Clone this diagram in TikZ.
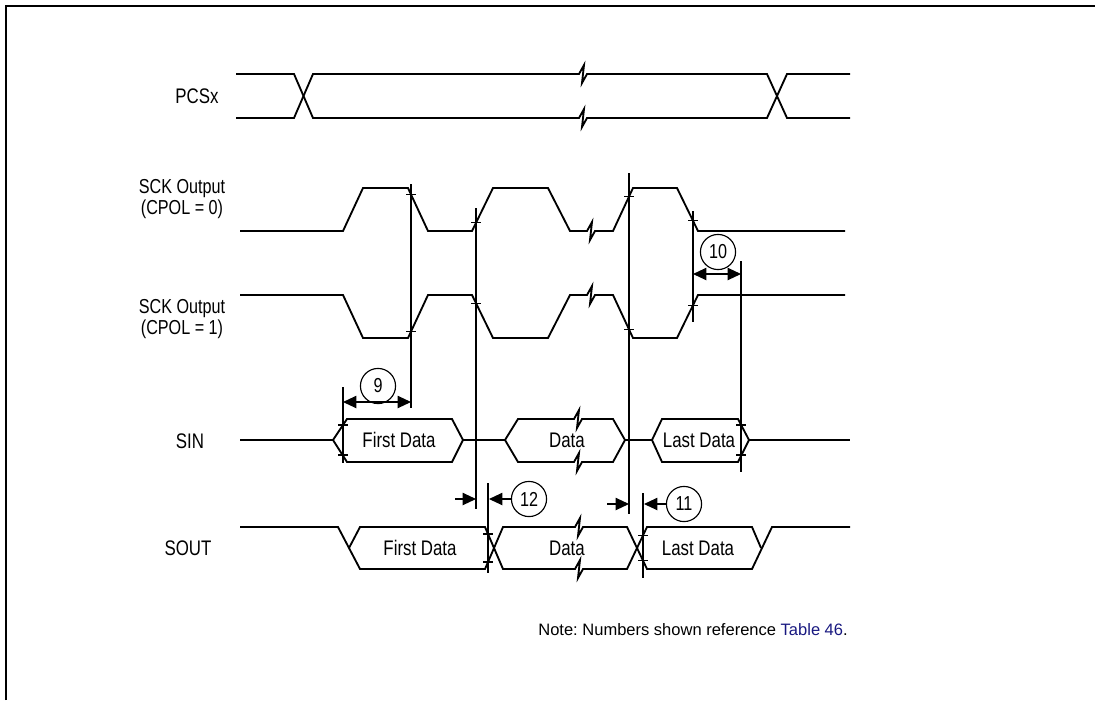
\documentclass[tikz,border=0pt]{standalone}
\usepackage{fontspec}
\setmainfont{Liberation Sans}
\newfontfamily\narrowfont{Liberation Sans}[FakeStretch=0.8]
\usetikzlibrary{arrows.meta}
\frenchspacing

\definecolor{tablink}{RGB}{24,24,128}

\tikzset{
  wave/.style={line width=1.05pt, line join=miter},
  marker/.style={line width=0.6pt},
  strobe/.style={line width=1.25pt},
  sig/.style={font=\narrowfont\fontsize{12}{14}\selectfont, inner sep=0pt},
  sck/.style={font=\narrowfont\fontsize{11.5}{9.3}\selectfont, inner sep=0pt, align=center},
  boxtext/.style={font=\narrowfont\fontsize{12}{14}\selectfont, inner sep=0pt},
  num/.style={circle, draw, line width=0.65pt, minimum size=20pt, inner sep=0pt,
    font=\narrowfont\fontsize{11.5}{12}\selectfont},
  dim/.style={line width=0.65pt, -{Triangle[length=7.6pt,width=7pt]}},
  dimboth/.style={line width=0.65pt, {Triangle[length=7.6pt,width=7pt]}-{Triangle[length=7.6pt,width=7pt]}},
}

% break mark inside a waveform path
\newcommand{\brk}[2]{-- ({#1-4},{#2}) -- ({#1+1},{#2-9}) -- ({#1-1},{#2+9}) -- ({#1+4},{#2})}

\begin{document}
\begin{tikzpicture}[x=0.02cm, y=-0.02cm]
    \useasboundingbox (0,0) rectangle (1095,700);

    % Frame
    \draw[line width=1.1pt] (6,700) -- (6,6) -- (1095,6);

    % Signal names
    \node[sig] (pcs) at (197,96) {PCSx};
    \node[sck] (sckzero) at (182,199) {SCK Output\\(CPOL = 0)};
    \node[sck] (sckone) at (182,319) {SCK Output\\(CPOL = 1)};
    \node[sig] (sin) at (190,441) {SIN};
    \node[sig] (sout) at (188,548) {SOUT};

    % PCSx
    \draw[wave] (236,74) -- (294,74) -- (313,118) \brk{583}{118} -- (767,118) -- (787,74) -- (850,74);
    \draw[wave] (236,118) -- (294,118) -- (313,74) \brk{583}{74} -- (767,74) -- (787,118) -- (850,118);

    % SCK, CPOL = 0
    \draw[wave] (240,231) -- (343,231) -- (363,188) -- (408,188) -- (428,231) -- (472,231)
        -- (493,188) -- (548,188) -- (570,231) \brk{591}{231} -- (613,231) -- (633,188)
        -- (677,188) -- (698,231) -- (845,231);

    % SCK, CPOL = 1
    \draw[wave] (240,295) -- (343,295) -- (363,338) -- (408,338) -- (428,295) -- (472,295)
        -- (493,338) -- (548,338) -- (570,295) \brk{591}{295} -- (613,295) -- (633,338)
        -- (677,338) -- (698,295) -- (845,295);

    % SIN
    \draw[wave] (240,440) -- (333,440);
    \draw[wave] (333,440) -- (347,419) -- (452,419) -- (463,440) -- (452,462) -- (347,462) -- cycle;
    \draw[wave] (463,440) -- (505,440);
    \draw[wave] (505,440) -- (518,419) \brk{578}{419} -- (613,419) -- (625,440);
    \draw[wave] (505,440) -- (518,462) \brk{578}{462} -- (613,462) -- (625,440);
    \draw[wave] (625,440) -- (652,440);
    \draw[wave] (652,440) -- (662,419) -- (738,419) -- (749,440) -- (738,462) -- (662,462) -- cycle;
    \draw[wave] (749,440) -- (850,440);
    \node[boxtext] (sinfirst) at (399,440) {First Data};
    \node[boxtext] (sindata) at (567,440) {Data};
    \node[boxtext] (sinlast) at (699,440) {Last Data};

    % SOUT
    \draw[wave] (240,527) -- (338,527) -- (360,569) -- (485,569) -- (503,527) \brk{579}{527}
        -- (627,527) -- (647,569) -- (752,569) -- (772,527) -- (850,527);
    \draw[wave] (349,548) -- (360,527) -- (485,527) -- (503,569) \brk{579}{569}
        -- (627,569) -- (647,527) -- (752,527) -- (761,548);
    \node[boxtext] (soutfirst) at (420,548) {First Data};
    \node[boxtext] (soutdata) at (567,548) {Data};
    \node[boxtext] (soutlast) at (698,548) {Last Data};

    % Reference lines
    \draw[marker] (411,184) -- (411,408);
    \draw[strobe] (476,208) -- (476,509);
    \draw[strobe] (629,173) -- (629,514);
    \draw[strobe] (693,211) -- (693,322);
    \draw[marker] (741,261) -- (741,472);
    \draw[marker] (343,387) -- (343,463);
    \draw[strobe] (488,483) -- (488,573);
    \draw[marker] (643,493) -- (643,578);

    % Ticks where the lines cross the edges
    \foreach \x/\y in {411/194.5, 411/331.5, 476/222.8, 476/303.2, 629/196.6, 629/329.4,
                       693/220.8, 693/305.2, 343/425, 343/455, 741/425, 741/455,
                       488/534, 488/562, 643/535.4, 643/560.6}
        \draw[marker] ({\x-5},\y) -- ({\x+5},\y);

    % Timing numbers
    \node[num] (nine) at (378,386) {9};
    \node[num] (ten) at (718,252) {10};
    \node[num] (twelve) at (529,499) {12};
    \node[num] (eleven) at (684,504) {11};

    \coordinate (nineL) at (343,402);
    \coordinate (nineR) at (411,402);
    \draw[dimboth] (nineL) -- (nineR);

    \coordinate (tenL) at (693,274);
    \coordinate (tenR) at (741,274);
    \draw[dimboth] (tenL) -- (tenR);

    \coordinate (twelveA) at (455,499);
    \coordinate (twelveB) at (476,499);
    \coordinate (twelveC) at (489,499);
    \draw[dim] (twelveA) -- (twelveB);
    \draw[dim] (twelve.west) -- (twelveC);

    \coordinate (elevenA) at (607,504);
    \coordinate (elevenB) at (629,504);
    \coordinate (elevenC) at (644,504);
    \draw[dim] (elevenA) -- (elevenB);
    \draw[dim] (eleven.west) -- (elevenC);

    % Note
    \node[anchor=west, inner sep=0pt, font=\fontsize{9.4}{11}\selectfont] (note) at (538,630)
        {Note: Numbers shown reference \textcolor{tablink}{Table 46}.};
\end{tikzpicture}
\end{document}
